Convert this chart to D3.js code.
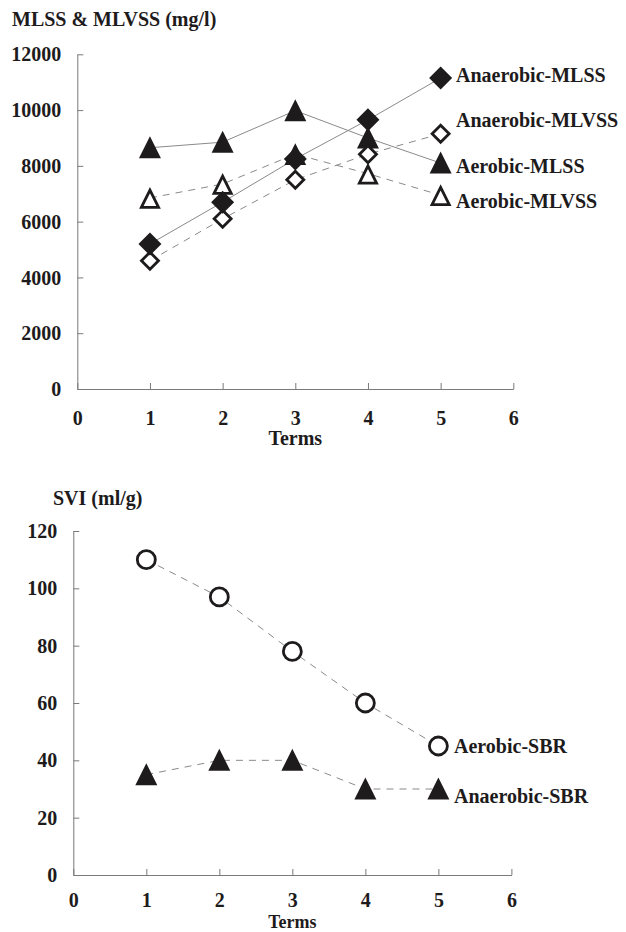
<!DOCTYPE html>
<html><head><meta charset="utf-8">
<script src="https://cdn.jsdelivr.net/npm/d3@7"></script>
<style>body{margin:0;background:#fff}svg{display:block}</style>
</head><body>
<svg id="c" width="626" height="932"></svg>
<script>
const terms = [1, 2, 3, 4, 5];
const xTicks = [0, 1, 2, 3, 4, 5, 6];
const topYTicks = [0, 2000, 4000, 6000, 8000, 10000, 12000];
const botYTicks = [0, 20, 40, 60, 80, 100, 120];

const anaerobicMLSS  = [5200, 6700, 8250, 9650, 11150];
const anaerobicMLVSS = [4600, 6100, 7500, 8420, 9150];
const aerobicMLSS    = [8650, 8850, 9980, 9000, 8100];
const aerobicMLVSS   = [6850, 7350, 8420, 7720, 6950];

const aerobicSBR   = [110, 97, 78, 60, 45];
const anaerobicSBR = [35, 40, 40, 30, 30];

const FONT = "'Liberation Serif','Times New Roman',serif";
const INK = "#1e1b1c";
const AX = "#7a7a7a";
const LINE = "#8a8a8a";

const svg = d3.select("#c");

function panel(o) {
  const x = d3.scaleLinear().domain([0, 6]).range(o.xr);
  const y = d3.scaleLinear().domain([0, o.ymax]).range(o.yr);
  const g = svg.append("g");
  const fmt = d3.format("d");
  const ya = g.append("g").attr("transform", `translate(${o.xr[0]},0)`)
    .call(d3.axisLeft(y).tickValues(o.yTicks).tickFormat(fmt).tickSize(-6).tickSizeOuter(0).tickPadding(16));
  const xa = g.append("g").attr("transform", `translate(0,${o.yr[0]})`)
    .call(d3.axisBottom(x).tickValues(xTicks).tickFormat(fmt).tickSize(-6).tickSizeOuter(0).tickPadding(o.xpad));
  [ya, xa].forEach(a => {
    a.attr("font-family", FONT).attr("font-size", 20).attr("font-weight", "bold");
    a.selectAll("path,line").attr("stroke", AX).attr("stroke-width", 1);
    a.selectAll("text").attr("fill", INK);
  });
  ya.selectAll("text").attr("dy", "0.33em");
  g.append("text").attr("x", x(3)).attr("y", o.termsY).attr("text-anchor", "middle")
    .attr("font-family", FONT).attr("font-size", o.termsSize).attr("font-weight", "bold").attr("fill", INK).text("Terms");
  g.append("text").attr("x", o.titleX).attr("y", o.titleY)
    .attr("font-family", FONT).attr("font-size", 20).attr("font-weight", "bold").attr("fill", INK).text(o.title);
  return {x, y, g};
}

const P1 = panel({xr: [77.3, 513.3], yr: [389, 54.3], ymax: 12000, yTicks: topYTicks, xpad: 22,
  termsY: 445, termsSize: 20, title: "MLSS & MLVSS (mg/l)", titleX: 12, titleY: 26});
const P2 = panel({xr: [73.3, 511.4], yr: [875, 531], ymax: 120, yTicks: botYTicks, xpad: 17.8,
  termsY: 927.5, termsSize: 18, title: "SVI (ml/g)", titleX: 53, titleY: 505});

function drawLine(P, vals, dashed) {
  const line = d3.line().x((d, i) => P.x(terms[i])).y(d => P.y(d));
  P.g.append("path").attr("d", line(vals)).attr("fill", "none").attr("stroke", LINE)
    .attr("stroke-width", 1).attr("stroke-dasharray", dashed ? "7,6" : null);
}
function diamond(h) { return `M0,${-h}L${h},0L0,${h}L${-h},0Z`; }
function tri(top, bot, hw) { return `M0,${top}L${hw},${bot}L${-hw},${bot}Z`; }

function markers(P, vals, type) {
  const sel = P.g.append("g").selectAll("path").data(vals).join("path")
    .attr("transform", (d, i) => `translate(${P.x(terms[i])},${P.y(d)})`);
  if (type === "fdiam") sel.attr("d", diamond(11.5)).attr("fill", INK);
  if (type === "odiam") sel.attr("d", diamond(8.5)).attr("fill", "#fff").attr("stroke", INK).attr("stroke-width", 2.8).attr("stroke-linejoin", "miter");
  if (type === "ftri") sel.attr("d", tri(-11.5, 10.5, 11)).attr("fill", INK);
  if (type === "otri") sel.attr("d", tri(-7.8, 9.4, 8.6)).attr("fill", "#fff").attr("stroke", INK).attr("stroke-width", 2.8).attr("stroke-linejoin", "miter");
}
function circles(P, vals) {
  P.g.append("g").selectAll("circle").data(vals).join("circle")
    .attr("cx", (d, i) => P.x(terms[i])).attr("cy", d => P.y(d)).attr("r", 9)
    .attr("fill", "#fff").attr("stroke", INK).attr("stroke-width", 2.8);
}
function label(text, x, y) {
  svg.append("text").attr("x", x).attr("y", y).attr("font-family", FONT).attr("font-size", 20)
    .attr("font-weight", "bold").attr("fill", INK).text(text);
}

// top panel
drawLine(P1, aerobicMLSS, false);
drawLine(P1, aerobicMLVSS, true);
drawLine(P1, anaerobicMLSS, false);
drawLine(P1, anaerobicMLVSS, true);
markers(P1, aerobicMLSS, "ftri");
markers(P1, aerobicMLVSS, "otri");
markers(P1, anaerobicMLVSS, "odiam");
markers(P1, anaerobicMLSS, "fdiam");
label("Anaerobic-MLSS", 456, 82.3);
label("Anaerobic-MLVSS", 456, 127);
label("Aerobic-MLSS", 456, 173);
label("Aerobic-MLVSS", 456, 208);

// bottom panel
drawLine(P2, aerobicSBR, true);
drawLine(P2, anaerobicSBR, true);
circles(P2, aerobicSBR);
markers(P2, anaerobicSBR, "ftri");
label("Aerobic-SBR", 454, 752.7);
label("Anaerobic-SBR", 454, 802.7);
</script>
</body></html>
